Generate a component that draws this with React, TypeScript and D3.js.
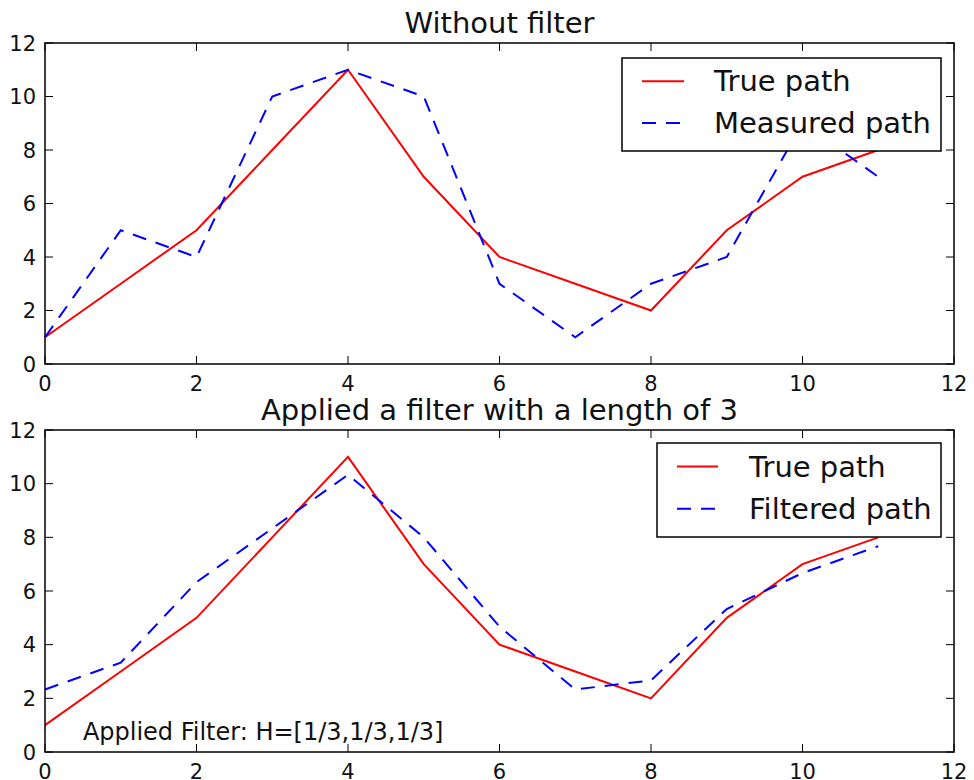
import * as d3 from "d3";

const xs = [0, 1, 2, 3, 4, 5, 6, 7, 8, 9, 10, 11];
const truePath = [1, 3, 5, 8, 11, 7, 4, 3, 2, 5, 7, 8];
const measuredPath = [1, 5, 4, 10, 11, 10, 3, 1, 3, 4, 9, 7];
const filteredPath = [2.33, 3.33, 6.33, 8.33, 10.33, 8, 4.67, 2.33, 2.67, 5.33, 6.67, 7.67];
const tickValues = [0, 2, 4, 6, 8, 10, 12];

const W = 974;
const H = 780;
const FONT = "DejaVu Sans, sans-serif";
const left = 45;
const right = 954;

type Panel = {
  top: number;
  bottom: number;
  title: string;
  second: number[];
  secondLabel: string;
  legend: { x0: number; x1: number; y0: number; y1: number; sx0: number; sx1: number; tx: number };
  note?: string;
};

const panels: Panel[] = [
  {
    top: 43,
    bottom: 364,
    title: "Without filter",
    second: measuredPath,
    secondLabel: "Measured path",
    legend: { x0: 622, x1: 941, y0: 58, y1: 151, sx0: 642, sx1: 684, tx: 714 },
  },
  {
    top: 430,
    bottom: 752,
    title: "Applied a filter with a length of 3",
    second: filteredPath,
    secondLabel: "Filtered path",
    legend: { x0: 657, x1: 941, y0: 443, y1: 537, sx0: 677, sx1: 718, tx: 749 },
    note: "Applied Filter: H=[1/3,1/3,1/3]",
  },
];

const x = d3.scaleLinear().domain([0, 12]).range([left, right]);

function Plot({ p }: { p: Panel }) {
  const y = d3.scaleLinear().domain([0, 12]).range([p.bottom, p.top]);
  const line = d3
    .line<number>()
    .x((_, i) => x(xs[i]))
    .y((d) => y(d));
  const lg = p.legend;
  const row1 = lg.y0 + (lg.y1 - lg.y0) * 0.25;
  const row2 = lg.y0 + (lg.y1 - lg.y0) * 0.7;
  return (
    <g>
      <text x={(left + right) / 2} y={p.top - 10} textAnchor="middle" fontSize={29} fill="#111">
        {p.title}
      </text>
      <path d={line(truePath) || ""} fill="none" stroke="#ff0000" strokeWidth={2} />
      <path d={line(p.second) || ""} fill="none" stroke="#0000ff" strokeWidth={2} strokeDasharray="14,10" />
      {tickValues.map((t) => (
        <g key={"x" + t}>
          <line x1={x(t)} x2={x(t)} y1={p.bottom} y2={p.bottom - 8} stroke="#000" strokeWidth={1} />
          <line x1={x(t)} x2={x(t)} y1={p.top} y2={p.top + 8} stroke="#000" strokeWidth={1} />
          <text x={x(t)} y={p.bottom + 27} textAnchor="middle" fontSize={21} fill="#111">
            {t}
          </text>
        </g>
      ))}
      {tickValues.map((t) => (
        <g key={"y" + t}>
          <line x1={left} x2={left + 8} y1={y(t)} y2={y(t)} stroke="#000" strokeWidth={1} />
          <line x1={right} x2={right - 8} y1={y(t)} y2={y(t)} stroke="#000" strokeWidth={1} />
          <text x={left - 9} y={y(t)} dy="0.36em" textAnchor="end" fontSize={21} fill="#111">
            {t}
          </text>
        </g>
      ))}
      <rect x={left} y={p.top} width={right - left} height={p.bottom - p.top} fill="none" stroke="#000" strokeWidth={1.5} />
      <rect x={lg.x0} y={lg.y0} width={lg.x1 - lg.x0} height={lg.y1 - lg.y0} fill="#fff" stroke="#000" strokeWidth={1.5} />
      <line x1={lg.sx0} x2={lg.sx1} y1={row1} y2={row1} stroke="#ff0000" strokeWidth={2} />
      <line x1={lg.sx0} x2={lg.sx1} y1={row2} y2={row2} stroke="#0000ff" strokeWidth={2} strokeDasharray="14,10" />
      <text x={lg.tx} y={row1 + 10} fontSize={29} fill="#111">
        True path
      </text>
      <text x={lg.tx} y={row2 + 10} fontSize={29} fill="#111">
        {p.secondLabel}
      </text>
      {p.note && (
        <text x={x(0.5)} y={y(0.45)} fontSize={24} fill="#111">
          {p.note}
        </text>
      )}
    </g>
  );
}

export default function App() {
  return (
    <svg
      width={W}
      height={H}
      style={{ position: "absolute", left: 0, top: 0, background: "#fff" }}
      fontFamily={FONT}
    >
      <rect width={W} height={H} fill="#fff" />
      {panels.map((p) => (
        <Plot key={p.title} p={p} />
      ))}
    </svg>
  );
}
